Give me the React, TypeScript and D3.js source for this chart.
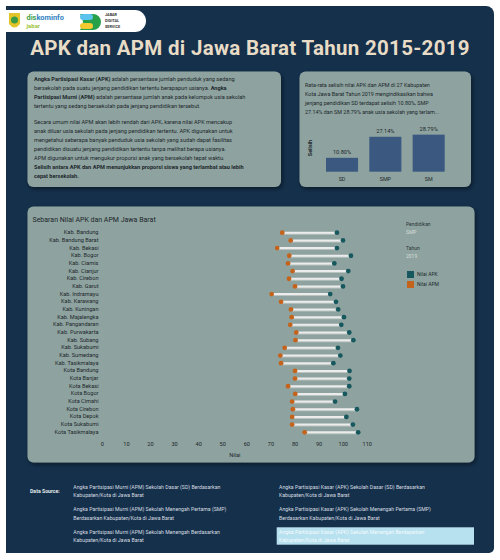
import React from "react";
import * as d3 from "d3";

const regions = [
  "Kab. Bandung", "Kab. Bandung Barat", "Kab. Bekasi", "Kab. Bogor", "Kab. Ciamis",
  "Kab. Cianjur", "Kab. Cirebon", "Kab. Garut", "Kab. Indramayu", "Kab. Karawang",
  "Kab. Kuningan", "Kab. Majalengka", "Kab. Pangandaran", "Kab. Purwakarta", "Kab. Subang",
  "Kab. Sukabumi", "Kab. Sumedang", "Kab. Tasikmalaya", "Kota Bandung", "Kota Banjar",
  "Kota Bekasi", "Kota Bogor", "Kota Cimahi", "Kota Cirebon", "Kota Depok",
  "Kota Sukabumi", "Kota Tasikmalaya",
];
const apk = [97.4, 99.9, 97.4, 103.2, 96.3, 102.1, 99.3, 99.9, 94.6, 97.0, 97.9, 100.3, 99.2, 102.5, 104.2, 97.8, 98.8, 95.9, 102.6, 102.5, 102.5, 100.7, 96.6, 105.7, 101.3, 104.0, 106.2];
const apm = [74.7, 78.2, 72.6, 77.6, 77.1, 79.0, 77.5, 80.0, 70.3, 74.2, 78.3, 78.6, 78.0, 80.5, 80.2, 75.7, 73.9, 74.2, 80.0, 80.0, 77.1, 80.1, 78.8, 79.1, 78.8, 78.8, 84.0];
const xTicks = [0, 10, 20, 30, 40, 50, 60, 70, 80, 90, 100, 110];

const levels = ["SD", "SMP", "SM"];
const gaps = [10.8, 27.14, 28.79];

const para1 = [
  [["Angka Partisipasi Kasar (APK)", true], [" adalah persentase jumlah penduduk yang sedang", false]],
  [["bersekolah pada suatu jenjang pendidikan tertentu berapapun usianya. ", false], ["Angka", true]],
  [["Partisipasi Murni (APM)", true], [" adalah persentase jumlah anak pada kelompok usia sekolah", false]],
  [["tertentu yang sedang bersekolah pada jenjang pendidikan tersebut.", false]],
];
const para2 = [
  [["Secara umum nilai APM akan lebih rendah dari APK, karena nilai APK mencakup", false]],
  [["anak diluar usia sekolah pada jenjang pendidikan tertentu. APK digunakan untuk", false]],
  [["mengetahui seberapa banyak penduduk usia sekolah yang sudah dapat fasilitas", false]],
  [["pendidikan disuatu jenjang pendidikan tertentu tanpa melihat berapa usianya.", false]],
  [["APM digunakan untuk mengukur proporsi anak yang bersekolah tepat waktu.", false]],
  [["Selisih antara APK dan APM menunjukkan proporsi siswa yang terlambat atau lebih", true]],
  [["cepat bersekolah.", true]],
];
const summary = [
  "Rata-rata selisih nilai APK dan APM di 27 Kabupaten",
  "Kota Jawa Barat Tahun 2019 mengindikasikan bahwa",
  "jenjang pendidikan SD terdapat selisih 10.80%, SMP",
  "27.14% dan SM 28.79% anak usia sekolah yang terlam...",
];
const sourcesLeft = [
  ["Angka Partisipasi Murni (APM) Sekolah Dasar (SD) Berdasarkan", "Kabupaten/Kota di Jawa Barat"],
  ["Angka Partisipasi Murni (APM) Sekolah Menengah Pertama (SMP)", "Berdasarkan Kabupaten/Kota di Jawa Barat"],
  ["Angka Partisipasi Murni (APM) Sekolah Menengah Berdasarkan", "Kabupaten/Kota di Jawa Barat"],
];
const sourcesRight = [
  ["Angka Partisipasi Kasar (APK) Sekolah Dasar (SD) Berdasarkan", "Kabupaten/Kota di Jawa Barat"],
  ["Angka Partisipasi Kasar (APK) Sekolah Menengah Pertama (SMP)", "Berdasarkan Kabupaten/Kota di Jawa Barat"],
  ["Angka Partisipasi Kasar (APK) Sekolah Menengah Berdasarkan", "Kabupaten/Kota di Jawa Barat"],
];

const NAVY = "#14304b";
const PANEL = "#8ea39f";
const TEAL = "#17585e";
const ORANGE = "#c4631c";
const FONT = "Roboto, 'Noto Sans', sans-serif";

export default function App() {
  const x = d3.scaleLinear().domain([0, 110]).range([102.3, 367.3]);
  const y = d3.scalePoint().domain(regions).range([232.7, 432.3]);
  const bx = d3.scaleBand().domain(levels).range([326, 444.7]).paddingInner(0.26).paddingOuter(0);
  const by = d3.scaleLinear().domain([0, 30]).range([171.7, 133.1]);

  const navyPath = "M6,6 H486 A8,8 0 0 1 494,14 V548 A5,5 0 0 1 489,553 H6 Z";

  const renderPara = (lines: any[], y0: number) =>
    lines.map((segs: any[], i: number) => (
      <text key={i} x={34} y={y0 + i * 9} fontSize={5.6} fill="#1c262c" dominantBaseline="middle">
        {segs.map((s: any, j: number) => (
          <tspan key={j} fontWeight={s[1] ? 700 : 400}>{s[0]}</tspan>
        ))}
      </text>
    ));

  return (
    <svg width={500} height={560} style={{ position: "absolute", left: 0, top: 0, fontFamily: FONT }}>
      <defs>
        <filter id="sh" x="-10%" y="-10%" width="130%" height="130%">
          <feDropShadow dx="1.5" dy="2" stdDeviation="2" floodColor="#000" floodOpacity="0.45" />
        </filter>
      </defs>
      <rect width={500} height={560} fill="#fff" />
      <path d={navyPath} fill={NAVY} />

      {/* logo pill */}
      <path d="M6,10 H135 A11,11 0 0 1 135,32 H6 Z" fill="#fff" />
      <path d="M9,13 H20 V24 Q14.5,31 9,24 Z" fill="#e3c52a" />
      <circle cx={14.5} cy={20} r={3.5} fill="#3a9a45" />
      <text x={26.5} y={20} fontSize={7.4} fontWeight={700} fill="#3fa14a">dis<tspan fill="#2f7fc1">kominfo</tspan></text>
      <text x={26.5} y={28} fontSize={6} fontWeight={700} fill="#9cc53c">jabar</text>
      <path d="M80,14 H93 A8,8 0 0 1 93,30 H80 Q86,22 80,14 Z" fill="#27a04a" />
      <rect x={80} y={14} width={13} height={6} rx={3} fill="#5bc3ec" />
      <rect x={80} y={23} width={13} height={6} rx={3} fill="#f5c930" />
      <text x={105} y={15.5} fontSize={3.8} fontWeight={700} fill="#333">JABAR</text>
      <text x={105} y={21.5} fontSize={3.8} fontWeight={700} fill="#333">DIGITAL</text>
      <text x={105} y={27.5} fontSize={3.8} fontWeight={700} fill="#333">SERVICE</text>

      <text x={250} y={55} textAnchor="middle" fontSize={20.5} fontWeight={700} fill="#e8dcc6" letterSpacing={0.3}>
        APK dan APM di Jawa Barat Tahun 2015-2019
      </text>

      {/* description panel */}
      <rect x={27.5} y={71.5} width={253.5} height={115.5} rx={6} fill={PANEL} filter="url(#sh)" />
      {renderPara(para1, 80)}
      {renderPara(para2, 123.3)}

      {/* summary panel */}
      <rect x={299.5} y={71.5} width={171.5} height={115.5} rx={6} fill={PANEL} filter="url(#sh)" />
      {summary.map((s, i) => (
        <text key={i} x={305} y={86 + i * 8.7} fontSize={5.4} fill="#1c262c" dominantBaseline="middle">{s}</text>
      ))}
      <text transform="translate(312,148) rotate(-90)" fontSize={5.4} fontWeight={700} textAnchor="middle" fill="#1c262c">Selisih</text>
      {levels.map((l, i) => (
        <g key={l}>
          <rect x={bx(l)} y={by(gaps[i])} width={bx.bandwidth()} height={by(0) - by(gaps[i])} fill="#3b5880" />
          <text x={(bx(l) as number) + bx.bandwidth() / 2} y={by(gaps[i]) - 4} fontSize={5.6} textAnchor="middle" fill="#1c262c">
            {gaps[i].toFixed(2)}%
          </text>
          <text x={(bx(l) as number) + bx.bandwidth() / 2} y={181} fontSize={5.4} textAnchor="middle" fill="#1c262c">{l}</text>
        </g>
      ))}

      {/* dumbbell panel */}
      <rect x={27.5} y={206.5} width={447} height={256} rx={6} fill={PANEL} filter="url(#sh)" />
      <text x={32.5} y={221.5} fontSize={7} fill="#1c262c">Sebaran Nilai APK dan APM Jawa Barat</text>
      {regions.map((r, i) => {
        const yy = y(r) as number;
        return (
          <g key={r}>
            <text x={98.5} y={yy} fontSize={5.6} textAnchor="end" dominantBaseline="middle" fill="#1c262c">{r}</text>
            <line x1={x(apm[i])} x2={x(apk[i])} y1={yy + 1} y2={yy + 1} stroke="#b9c4c1" strokeWidth={2} />
            <line x1={x(apm[i])} x2={x(apk[i])} y1={yy} y2={yy} stroke="#ececec" strokeWidth={2} />
            <circle cx={x(apk[i])} cy={yy} r={2.4} fill={TEAL} />
            <circle cx={x(apm[i])} cy={yy} r={2.4} fill={ORANGE} />
          </g>
        );
      })}
      {xTicks.map((t) => (
        <text key={t} x={x(t)} y={445} fontSize={5.6} textAnchor="middle" dominantBaseline="middle" fill="#1c262c">{t}</text>
      ))}
      <text x={x(55)} y={456} fontSize={5.6} textAnchor="middle" dominantBaseline="middle" fill="#1c262c">Nilai</text>

      {/* legend */}
      <text x={406} y={225} fontSize={5} fill="#2a3438" dominantBaseline="middle">Pendidikan</text>
      <text x={406} y={233} fontSize={5} fill="#d6dcda" dominantBaseline="middle">SMP</text>
      <text x={406} y={248.7} fontSize={5} fill="#2a3438" dominantBaseline="middle">Tahun</text>
      <text x={406} y={257} fontSize={5} fill="#d6dcda" dominantBaseline="middle">2019</text>
      <rect x={407} y={271} width={7} height={7} fill={TEAL} />
      <text x={417} y={274.5} fontSize={5} fill="#1c262c" dominantBaseline="middle">Nilai APK</text>
      <rect x={407} y={281} width={7} height={7} fill={ORANGE} />
      <text x={417} y={284.5} fontSize={5} fill="#1c262c" dominantBaseline="middle">Nilai APM</text>

      {/* data sources */}
      <text x={30} y={491.5} fontSize={5.2} fontWeight={700} fill="#e6eaec" dominantBaseline="middle">Data Source:</text>
      <rect x={276.7} y={527.3} width={197.3} height={17.4} fill="#b7e1ef" />
      {sourcesLeft.map((s, i) => (
        <g key={i}>
          <text x={73.3} y={487.3 + i * 22.5} fontSize={5.2} fill="#d7dde0" dominantBaseline="middle">{s[0]}</text>
          <text x={73.3} y={495.8 + i * 22.5} fontSize={5.2} fill="#d7dde0" dominantBaseline="middle">{s[1]}</text>
        </g>
      ))}
      {sourcesRight.map((s, i) => (
        <g key={i}>
          <text x={279} y={487.3 + i * 22.5} fontSize={5.2} fill={i === 2 ? "#f4fafc" : "#d7dde0"} dominantBaseline="middle">{s[0]}</text>
          <text x={279} y={495.8 + i * 22.5} fontSize={5.2} fill={i === 2 ? "#f4fafc" : "#d7dde0"} dominantBaseline="middle">{s[1]}</text>
        </g>
      ))}
    </svg>
  );
}
